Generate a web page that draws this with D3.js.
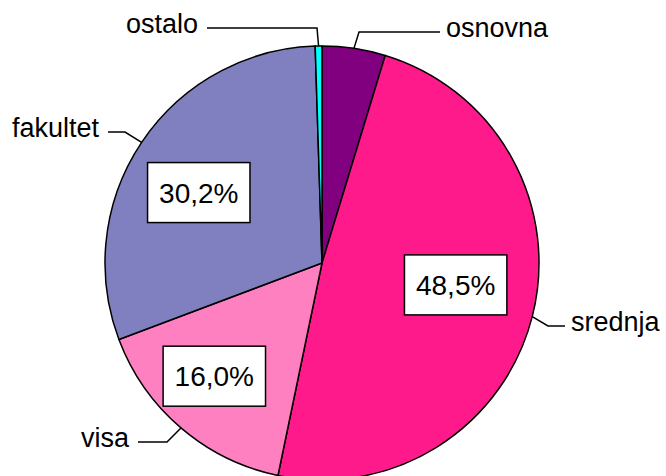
<!DOCTYPE html>
<html lang="en">
<head>
<meta charset="UTF-8">
<title>Obrazovanje</title>
<script src="https://d3js.org/d3.v7.min.js"></script>
<style>
    body { margin: 0; background: #fff; }
    svg { display: block; }
    .cat { font-family: "Liberation Sans", Arial, sans-serif; font-size: 27px; fill: #000; }
    .pct { font-family: "Liberation Sans", Arial, sans-serif; font-size: 28px; fill: #000; }
    .leader { fill: none; stroke: #000; stroke-width: 1.5px; }
</style>
</head>
<body>
<svg width="666" height="476"></svg>
<script>
    // data
    const categories = ["osnovna", "srednja", "visa", "fakultet", "ostalo"];
    const shares = [4.7, 48.5, 16.0, 30.2, 0.5];
    const percentLabels = [null, "48,5%", "16,0%", "30,2%", null];
    const colors = ["#800080", "#ff1a8c", "#ff80c0", "#8080c0", "#00ffff"];

    // layout
    const cx = 322, cy = 263, R = 217;
    // elbow of each leader line and where the horizontal piece ends
    const leaders = [
        { ex: 359, ey: 32, lx: 440, side: "right" },
        { ex: 548, ey: 326, lx: 565, side: "right" },
        { ex: 167, ey: 442, lx: 138, side: "left" },
        { ex: 125, ey: 132, lx: 108, side: "left" },
        { ex: 317, ey: 28, lx: 207, side: "left" }
    ];
    // small nudges for the percent boxes, Excel places them a bit off-centroid
    const pctNudge = [[0, 0], [-3, -13], [-16, 6], [-6, 8], [0, 0]];

    const svg = d3.select("svg");
    const g = svg.append("g").attr("transform", `translate(${cx},${cy})`);

    const pie = d3.pie().sort(null).value(d => d);
    const arcs = pie(shares);
    const arc = d3.arc().innerRadius(0).outerRadius(R);

    g.selectAll("path.slice")
        .data(arcs)
        .enter()
        .append("path")
        .attr("class", "slice")
        .attr("d", arc)
        .attr("fill", (d, i) => colors[i])
        .attr("stroke", "#000")
        .attr("stroke-width", 1.5)
        .attr("stroke-linejoin", "round");

    // leader lines + category labels
    arcs.forEach((d, i) => {
        const a = (d.startAngle + d.endAngle) / 2;
        const px = cx + R * Math.sin(a), py = cy - R * Math.cos(a);
        const L = leaders[i];
        svg.append("path")
            .attr("class", "leader")
            .attr("d", d3.line()([[px, py], [L.ex, L.ey], [L.lx, L.ey]]));
        svg.append("text")
            .attr("class", "cat")
            .attr("x", L.side === "right" ? L.lx + 6 : L.lx - 9)
            .attr("y", L.ey + 5)
            .attr("text-anchor", L.side === "right" ? "start" : "end")
            .text(categories[i]);
    });

    // percent boxes
    const labelArc = d3.arc().innerRadius(R * 0.65).outerRadius(R * 0.65);
    arcs.forEach((d, i) => {
        if (!percentLabels[i]) return;
        const [x, y] = labelArc.centroid(d);
        const lx = cx + x + pctNudge[i][0], ly = cy + y + pctNudge[i][1];
        const grp = svg.append("g");
        const rect = grp.append("rect");
        const t = grp.append("text")
            .attr("class", "pct")
            .attr("x", lx)
            .attr("y", ly + 10)
            .attr("text-anchor", "middle")
            .text(percentLabels[i]);
        const bb = t.node().getBBox();
        const w = bb.width + 23, h = 60;
        rect.attr("x", lx - w / 2)
            .attr("y", ly - h / 2)
            .attr("width", w)
            .attr("height", h)
            .attr("fill", "#fff")
            .attr("stroke", "#000")
            .attr("stroke-width", 1.5);
    });
</script>
</body>
</html>
